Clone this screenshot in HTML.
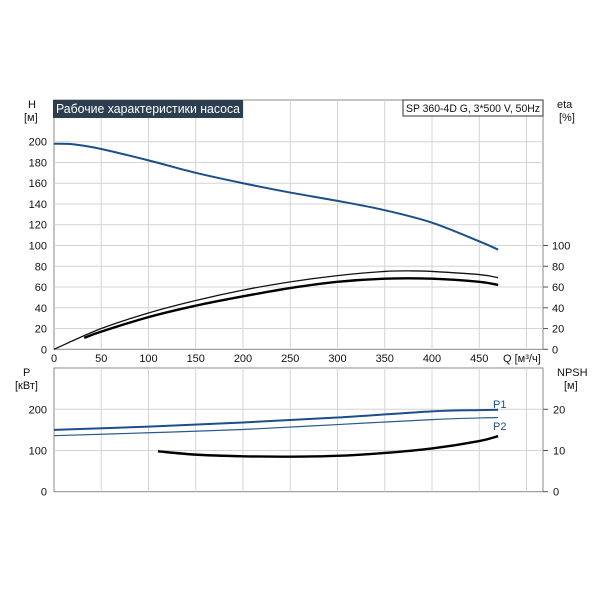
<!DOCTYPE html>
<html><head><meta charset="utf-8"><style>
body{margin:0;background:#fff}
svg text{font-family:"Liberation Sans","DejaVu Sans",sans-serif;font-size:11px;fill:#111}
</style></head><body>
<svg id="c" width="600" height="600" xmlns="http://www.w3.org/2000/svg">
<g id="grid"></g>
<g id="marks"></g>
<g id="labels"></g>
<rect x="53" y="100" width="190" height="18" fill="#2d3e50"/>
<text x="56" y="113" textLength="184" lengthAdjust="spacingAndGlyphs" style="fill:#fff;font-size:12.5px">Рабочие характеристики насоса</text>
<rect x="403" y="100" width="140" height="16" fill="#fff" stroke="#333"/>
<text x="406" y="112" textLength="134" lengthAdjust="spacingAndGlyphs">SP 360-4D G, 3*500 V, 50Hz</text>
<text x="28" y="108">H</text>
<text x="24" y="121">[м]</text>
<text x="557" y="108">eta</text>
<text x="559" y="121">[%]</text>
<text x="503" y="362">Q [м³/ч]</text>
<text x="23" y="376">P</text>
<text x="15" y="389">[кВт]</text>
<text x="557" y="376">NPSH</text>
<text x="564" y="389">[м]</text>
<text x="493" y="408" style="fill:#1a4f8a">P1</text>
<text x="493" y="430" style="fill:#1a4f8a">P2</text>
</svg>
<script>
const qTicks=[0,50,100,150,200,250,300,350,400,450];
const hTicks=[0,20,40,60,80,100,120,140,160,180,200];
const etaTicks=[0,20,40,60,80,100];
const pTicks=[0,100,200];
const npshTicks=[0,10,20];
const hQ=[0,20,50,100,150,200,250,300,350,400,450,470];
const hVal=[198,197.5,193,182,170,160,151,143,134,122,104,96];
const eta1Q=[0,50,100,150,200,250,300,350,380,400,450,470];
const eta1Val=[0,20,35,47,57,65,71,75,75.5,75,72,69];
const eta2Q=[32,50,100,150,200,250,300,350,400,450,470];
const eta2Val=[11,17,31,42,51,59,65,68,68,65,62];
const pQ=[0,100,200,300,400,450,470];
const p1Val=[150,158,168,180,195,198,199];
const p2Val=[136,143,151,163,175,179,180];
const npshQ=[110,150,200,250,300,350,400,450,470];
const npshVal=[9.8,9.0,8.6,8.5,8.7,9.4,10.5,12.3,13.5];

const NS="http://www.w3.org/2000/svg";
const X0=54,X1=543;
const x=q=>X0+q*0.945;
const yH=h=>349.3-h*1.038;
const yP=p=>491.7-p*0.412;
const yN=n=>491.7-n*4.12;
const g=document.getElementById('grid'),m=document.getElementById('marks'),lb=document.getElementById('labels');
function el(par,tag,at){const e=document.createElementNS(NS,tag);for(const k in at)e.setAttribute(k,at[k]);par.appendChild(e);return e;}
const f1=el(g,'rect',{x:X0,y:100,width:X1-X0,height:249.3,fill:'none',stroke:'#888'});


const f2=el(g,'rect',{x:X0,y:368,width:X1-X0,height:123.7,fill:'none',stroke:'#888'});


const vq=qTicks.concat([500]);
vq.forEach(q=>{if(q===0)return;
 const a=el(g,'line',{x1:x(q),x2:x(q),y1:100,y2:349.3,stroke:'#d4d4d4'});
 
 
 const b=el(g,'line',{x1:x(q),x2:x(q),y1:368,y2:491.7,stroke:'#d4d4d4'});
 
 });
qTicks.forEach(q=>{const t=el(lb,'text',{x:x(q),y:362,'text-anchor':'middle'});t.textContent=q;
 
 });
hTicks.forEach(h=>{if(h>0){const a=el(g,'line',{x1:X0,x2:X1,y1:yH(h),y2:yH(h),stroke:'#d4d4d4'});
 
 }});
hTicks.forEach(h=>{const t=el(lb,'text',{x:47,y:yH(h)+4,'text-anchor':'end'});t.textContent=h;
 
 });
etaTicks.forEach(v=>{const t=el(lb,'text',{x:552,y:yH(v)+4});t.textContent=v;
 
 
 const k=el(g,'line',{x1:X1,x2:X1+5,y1:yH(v),y2:yH(v),stroke:'#555'});
 
 });
[100,200].forEach(p=>{const a=el(g,'line',{x1:X0,x2:X1,y1:yP(p),y2:yP(p),stroke:'#d4d4d4'});
 
 });
pTicks.forEach(p=>{const t=el(lb,'text',{x:47,y:yP(p)+4,'text-anchor':'end'});t.textContent=p;
 
 });
npshTicks.forEach(n=>{const t=el(lb,'text',{x:553,y:yN(n)+4});t.textContent=n;
 
 
 const k=el(g,'line',{x1:X1,x2:X1+5,y1:yN(n),y2:yN(n),stroke:'#555'});
 
 });
function smooth(xs,ys,fx,fy){const P=xs.map((q,i)=>[fx(q),fy(ys[i])]);let d='M'+P[0][0]+','+P[0][1];
 for(let i=0;i<P.length-1;i++){const p0=P[i-1]||P[i],p1=P[i],p2=P[i+1],p3=P[i+2]||p2;
 d+=` C${p1[0]+(p2[0]-p0[0])/6},${p1[1]+(p2[1]-p0[1])/6} ${p2[0]-(p3[0]-p1[0])/6},${p2[1]-(p3[1]-p1[1])/6} ${p2[0]},${p2[1]}`;}return d;}
function curve(xs,ys,fy,col,w,name){const p=el(m,'path',{d:smooth(xs,ys,x,fy),fill:'none',stroke:col,'stroke-width':w});
 
 }
curve(hQ,hVal,yH,'#1a4f8a',2,'h-curve');
curve(eta1Q,eta1Val,yH,'#111',1.3,'eta-curve-hydraulic');
curve(eta2Q,eta2Val,yH,'#000',2.4,'eta-curve-total');
curve(pQ,p1Val,yP,'#1a4f8a',2,'p1-curve');
curve(pQ,p2Val,yP,'#2a5a90',1.2,'p2-curve');
curve(npshQ,npshVal,yN,'#000',2.4,'npsh-curve');
</script>
</body></html>
